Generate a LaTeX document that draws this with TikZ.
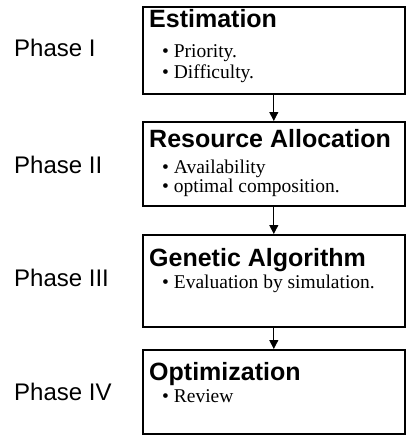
\documentclass[tikz,border=0pt]{standalone}
\usepackage{fontspec}
\setmainfont{Liberation Serif}
\setsansfont{Liberation Sans}
\usetikzlibrary{arrows.meta,calc}
\tikzset{
  box/.style={draw, line width=1.6pt, minimum width=262pt, anchor=north west, inner sep=0pt},
  ttl/.style={anchor=base west, inner sep=0pt, font=\sffamily\bfseries\fontsize{25}{29}\selectfont},
  itm/.style={anchor=base west, inner sep=0pt, font=\fontsize{19.5}{23}\selectfont},
  phase/.style={anchor=west, inner sep=0pt, font=\sffamily\fontsize{24}{28}\selectfont},
  flow/.style={line width=0.8pt, -{Triangle[length=9pt,width=9pt]}}
}
\begin{document}
\begin{tikzpicture}[x=1pt,y=-1pt]
\useasboundingbox (0,0) rectangle (406,436);
% boxes
\node[box, minimum height=87pt] (b1) at (142,6) {};
\node[box, minimum height=84pt] (b2) at (142,121) {};
\node[box, minimum height=92pt] (b3) at (142,234) {};
\node[box, minimum height=84pt] (b4) at (142,349) {};
% titles
\node[ttl] (t1) at (149,28) {Estimation};
\node[ttl] (t2) at (149,147) {Resource Allocation};
\node[ttl] (t3) at (149,266) {Genetic Algorithm};
\node[ttl] (t4) at (149,380) {Optimization};
% items
\node[itm] (i11) at (162,57) {\textbullet\ Priority.};
\node[itm] (i12) at (162,78) {\textbullet\ Difficulty.};
\node[itm] (i21) at (162,173) {\textbullet\ Availability};
\node[itm] (i22) at (162,192) {\textbullet\ optimal composition.};
\node[itm] (i31) at (162,288) {\textbullet\ Evaluation by simulation.};
\node[itm] (i41) at (162,402) {\textbullet\ Review};
% phases
\node[phase] (p1) at (14,48) {Phase I};
\node[phase] (p2) at (14,165) {Phase II};
\node[phase] (p3) at (14,278) {Phase III};
\node[phase] (p4) at (14,392) {Phase IV};
% arrows
\draw[flow] (b1.south) -- (b2.north);
\draw[flow] (b2.south) -- (b3.north);
\draw[flow] (b3.south) -- (b4.north);
\end{tikzpicture}
\end{document}
